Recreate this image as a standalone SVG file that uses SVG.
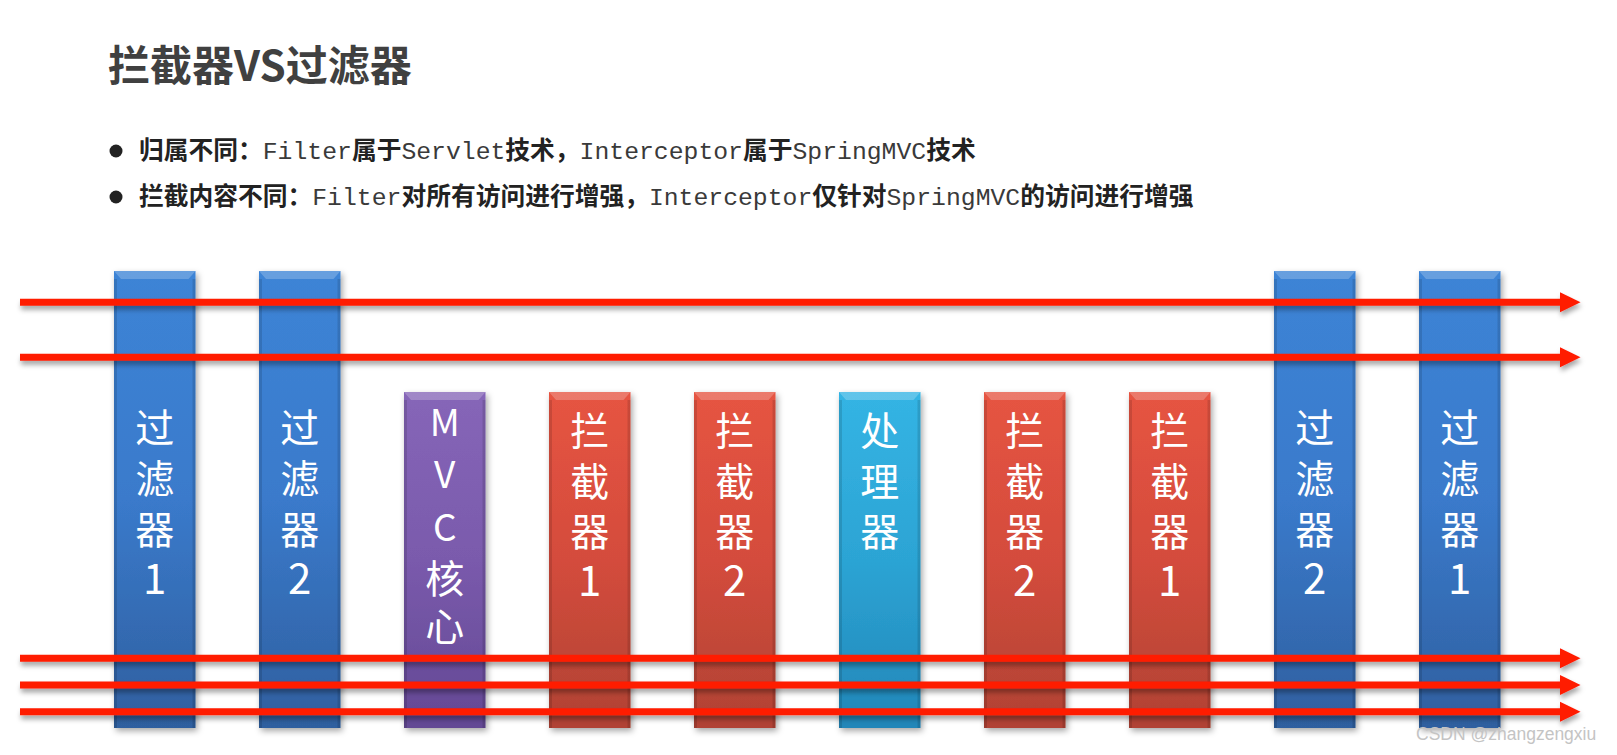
<svg xmlns="http://www.w3.org/2000/svg" width="1617" height="755" viewBox="0 0 1617 755">
<defs>
<style>
.title{font-family:"Noto Sans CJK SC","Liberation Sans",sans-serif;font-weight:bold;font-size:42px;fill:#404040}
.cj{font-family:"Noto Sans CJK SC",sans-serif;font-weight:bold;font-size:24.75px;fill:#222}
.mo{font-family:"Liberation Mono","Noto Sans CJK SC",monospace;font-size:24.75px;fill:#3a3a3a}
.bt{font-family:"Noto Sans CJK SC","Liberation Sans",sans-serif;font-size:39px;fill:#fff;text-anchor:middle}
.dg{font-family:"Noto Sans CJK SC","Liberation Sans",sans-serif;font-size:42px;fill:#fff;text-anchor:middle}
.lt{font-family:"Noto Sans CJK SC","Liberation Sans",sans-serif;font-size:37px;fill:#fff;text-anchor:middle}
.bev{fill:#fff;fill-opacity:0.22}
.edge{fill:#000;fill-opacity:0.12}
.ln{stroke:#ff1a00;stroke-width:7;fill:none}
.ah{fill:#ff1a00}
.wm{font-family:"Liberation Sans",Arial,sans-serif;font-size:17.5px;fill:#c4c4c4}
</style>
<linearGradient id="gBlue" x1="0" y1="0" x2="0" y2="1"><stop offset="0" stop-color="#3c84d6"/><stop offset="0.5" stop-color="#3a7acb"/><stop offset="1" stop-color="#2f5f9f"/></linearGradient>
<linearGradient id="gRed" x1="0" y1="0" x2="0" y2="1"><stop offset="0" stop-color="#e65442"/><stop offset="0.5" stop-color="#d44c3c"/><stop offset="1" stop-color="#b04234"/></linearGradient>
<linearGradient id="gPurple" x1="0" y1="0" x2="0" y2="1"><stop offset="0" stop-color="#8666b8"/><stop offset="0.5" stop-color="#7a5aac"/><stop offset="1" stop-color="#634894"/></linearGradient>
<linearGradient id="gCyan" x1="0" y1="0" x2="0" y2="1"><stop offset="0" stop-color="#34b4e4"/><stop offset="0.5" stop-color="#2ca4d4"/><stop offset="1" stop-color="#2286b8"/></linearGradient>
<filter id="sh" x="-20%" y="-20%" width="140%" height="140%"><feDropShadow dx="2" dy="3" stdDeviation="3" flood-color="#000" flood-opacity="0.35"/></filter>
<filter id="lsh" x="-5%" y="-200%" width="110%" height="500%"><feDropShadow dx="1" dy="4" stdDeviation="2.5" flood-color="#000" flood-opacity="0.35"/></filter>
</defs>
<rect width="1617" height="755" fill="#fff"/>

<text class="title" x="108" y="81">拦截器VS过滤器</text>

<g id="bullets">
<circle cx="116" cy="151" r="6.5" fill="#222"/>
<text x="139" y="159"><tspan class="cj">归属不同：</tspan><tspan class="mo">Filter</tspan><tspan class="cj">属于</tspan><tspan class="mo">Servlet</tspan><tspan class="cj">技术，</tspan><tspan class="mo">Interceptor</tspan><tspan class="cj">属于</tspan><tspan class="mo">SpringMVC</tspan><tspan class="cj">技术</tspan></text>
<circle cx="116" cy="197" r="6.5" fill="#222"/>
<text x="139" y="205"><tspan class="cj">拦截内容不同：</tspan><tspan class="mo">Filter</tspan><tspan class="cj">对所有访问进行增强，</tspan><tspan class="mo">Interceptor</tspan><tspan class="cj">仅针对</tspan><tspan class="mo">SpringMVC</tspan><tspan class="cj">的访问进行增强</tspan></text>
</g>

<g id="filter1-in">
<rect x="114" y="271" width="81.5" height="457" fill="url(#gBlue)" filter="url(#sh)"/>
<polygon class="bev" points="114,271 195.5,271 188.5,279 121,279"/>
<rect class="edge" x="114" y="279" width="3" height="449"/><rect class="edge" x="192.5" y="279" width="3" height="449"/>
<text class="bt" x="154.75" y="442">过</text><text class="bt" x="154.75" y="493">滤</text><text class="bt" x="154.75" y="544">器</text><text class="dg" x="154.75" y="594">1</text>
</g>
<g id="filter2-in">
<rect x="259" y="271" width="81.5" height="457" fill="url(#gBlue)" filter="url(#sh)"/>
<polygon class="bev" points="259,271 340.5,271 333.5,279 266,279"/>
<rect class="edge" x="259" y="279" width="3" height="449"/><rect class="edge" x="337.5" y="279" width="3" height="449"/>
<text class="bt" x="299.75" y="442">过</text><text class="bt" x="299.75" y="493">滤</text><text class="bt" x="299.75" y="544">器</text><text class="dg" x="299.75" y="594">2</text>
</g>
<g id="mvc-core">
<rect x="404" y="392" width="81.5" height="336" fill="url(#gPurple)" filter="url(#sh)"/>
<polygon class="bev" points="404,392 485.5,392 478.5,400 411,400"/>
<rect class="edge" x="404" y="400" width="3" height="328"/><rect class="edge" x="482.5" y="400" width="3" height="328"/>
<text class="lt" x="444.75" y="436">M</text><text class="lt" x="444.75" y="488">V</text><text class="lt" x="444.75" y="541">C</text><text class="bt" x="444.75" y="593">核</text><text class="bt" x="444.75" y="641">心</text>
</g>
<g id="interceptor1-in">
<rect x="549" y="392" width="81.5" height="336" fill="url(#gRed)" filter="url(#sh)"/>
<polygon class="bev" points="549,392 630.5,392 623.5,400 556,400"/>
<rect class="edge" x="549" y="400" width="3" height="328"/><rect class="edge" x="627.5" y="400" width="3" height="328"/>
<text class="bt" x="589.75" y="445">拦</text><text class="bt" x="589.75" y="496">截</text><text class="bt" x="589.75" y="546">器</text><text class="dg" x="589.75" y="596">1</text>
</g>
<g id="interceptor2-in">
<rect x="694" y="392" width="81.5" height="336" fill="url(#gRed)" filter="url(#sh)"/>
<polygon class="bev" points="694,392 775.5,392 768.5,400 701,400"/>
<rect class="edge" x="694" y="400" width="3" height="328"/><rect class="edge" x="772.5" y="400" width="3" height="328"/>
<text class="bt" x="734.75" y="445">拦</text><text class="bt" x="734.75" y="496">截</text><text class="bt" x="734.75" y="546">器</text><text class="dg" x="734.75" y="596">2</text>
</g>
<g id="handler">
<rect x="839" y="392" width="81.5" height="336" fill="url(#gCyan)" filter="url(#sh)"/>
<polygon class="bev" points="839,392 920.5,392 913.5,400 846,400"/>
<rect class="edge" x="839" y="400" width="3" height="328"/><rect class="edge" x="917.5" y="400" width="3" height="328"/>
<text class="bt" x="879.75" y="445">处</text><text class="bt" x="879.75" y="496">理</text><text class="bt" x="879.75" y="546">器</text>
</g>
<g id="interceptor2-out">
<rect x="984" y="392" width="81.5" height="336" fill="url(#gRed)" filter="url(#sh)"/>
<polygon class="bev" points="984,392 1065.5,392 1058.5,400 991,400"/>
<rect class="edge" x="984" y="400" width="3" height="328"/><rect class="edge" x="1062.5" y="400" width="3" height="328"/>
<text class="bt" x="1024.75" y="445">拦</text><text class="bt" x="1024.75" y="496">截</text><text class="bt" x="1024.75" y="546">器</text><text class="dg" x="1024.75" y="596">2</text>
</g>
<g id="interceptor1-out">
<rect x="1129" y="392" width="81.5" height="336" fill="url(#gRed)" filter="url(#sh)"/>
<polygon class="bev" points="1129,392 1210.5,392 1203.5,400 1136,400"/>
<rect class="edge" x="1129" y="400" width="3" height="328"/><rect class="edge" x="1207.5" y="400" width="3" height="328"/>
<text class="bt" x="1169.75" y="445">拦</text><text class="bt" x="1169.75" y="496">截</text><text class="bt" x="1169.75" y="546">器</text><text class="dg" x="1169.75" y="596">1</text>
</g>
<g id="filter2-out">
<rect x="1274" y="271" width="81.5" height="457" fill="url(#gBlue)" filter="url(#sh)"/>
<polygon class="bev" points="1274,271 1355.5,271 1348.5,279 1281,279"/>
<rect class="edge" x="1274" y="279" width="3" height="449"/><rect class="edge" x="1352.5" y="279" width="3" height="449"/>
<text class="bt" x="1314.75" y="442">过</text><text class="bt" x="1314.75" y="493">滤</text><text class="bt" x="1314.75" y="544">器</text><text class="dg" x="1314.75" y="594">2</text>
</g>
<g id="filter1-out">
<rect x="1419" y="271" width="81.5" height="457" fill="url(#gBlue)" filter="url(#sh)"/>
<polygon class="bev" points="1419,271 1500.5,271 1493.5,279 1426,279"/>
<rect class="edge" x="1419" y="279" width="3" height="449"/><rect class="edge" x="1497.5" y="279" width="3" height="449"/>
<text class="bt" x="1459.75" y="442">过</text><text class="bt" x="1459.75" y="493">滤</text><text class="bt" x="1459.75" y="544">器</text><text class="dg" x="1459.75" y="594">1</text>
</g>

<g id="connectors">
<g filter="url(#lsh)">
<line class="ln" x1="20" y1="302.3" x2="1562" y2="302.3"/><polygon class="ah" points="1560,292.3 1580.5,302.3 1560,312.3"/>
</g>
<g filter="url(#lsh)">
<line class="ln" x1="20" y1="357.3" x2="1562" y2="357.3"/><polygon class="ah" points="1560,347.3 1580.5,357.3 1560,367.3"/>
</g>
<g filter="url(#lsh)">
<line class="ln" x1="20" y1="658.3" x2="1562" y2="658.3"/><polygon class="ah" points="1560,648.3 1580.5,658.3 1560,668.3"/>
</g>
<g filter="url(#lsh)">
<line class="ln" x1="20" y1="685" x2="1562" y2="685"/><polygon class="ah" points="1560,675 1580.5,685 1560,695"/>
</g>
<g filter="url(#lsh)">
<line class="ln" x1="20" y1="711.7" x2="1562" y2="711.7"/><polygon class="ah" points="1560,701.7 1580.5,711.7 1560,721.7"/>
</g>
</g>

<text class="wm" x="1416" y="740">CSDN @zhangzengxiu</text>
</svg>
